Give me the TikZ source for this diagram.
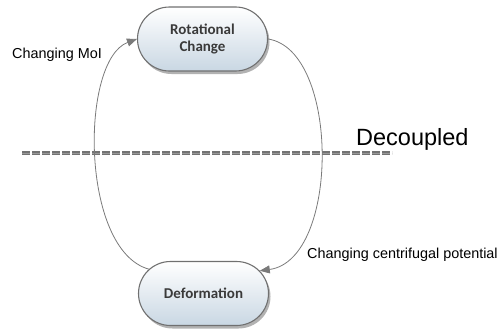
\documentclass[tikz,border=0pt]{standalone}
\usepackage{fontspec}
\setmainfont{Liberation Sans}
\newfontfamily\nodefont{Carlito}
\usetikzlibrary{shapes.misc,shadows,arrows.meta}
\definecolor{nodeborder}{HTML}{707070}
\definecolor{nodebottom}{HTML}{C9D7E3}
\definecolor{nodetext}{HTML}{3A3A3A}
\definecolor{linkgray}{HTML}{7A7A7A}
\tikzset{
  statebox/.style={rounded rectangle, draw=nodeborder, line width=1.1pt,
    top color=white, bottom color=nodebottom, minimum width=130pt, minimum height=64pt,
    inner sep=0pt, align=center, text=nodetext,
    font=\nodefont\bfseries\fontsize{15}{17}\selectfont,
    drop shadow={shadow xshift=2pt, shadow yshift=-3pt, fill=black, opacity=0.3}},
  link/.style={draw=linkgray, line width=0.8pt, -{Triangle[length=10pt,width=8pt,fill=linkgray]}},
  lbl/.style={font=\fontsize{14.4}{16}\selectfont, anchor=west, inner sep=0pt}
}
\begin{document}
\begin{tikzpicture}[x=1pt,y=-1pt]
\useasboundingbox (0,0) rectangle (500,332);
\node[statebox] (rot) at (202.5,39) {Rotational\\Change};
\node[statebox] (def) at (203.5,293.5) {Deformation};
\coordinate (dl) at (22,153);
\coordinate (dr) at (392,153);
\draw[gray!90!black, line width=3.5pt, dash pattern=on 8pt off 2pt] (dl) -- (dr);
\draw[gray!80, line width=0.6pt, dash pattern=on 8pt off 2pt] (dl) -- (dr);
\draw[link] (def.156) .. controls (80,250) and (80,60) .. (rot.west);
\draw[link] (rot.east) .. controls (340,50) and (340,260) .. (def.22);
\node[lbl] (moi) at (12,55) {Changing MoI};
\node[lbl] (cent) at (307,255) {Changing centrifugal potential};
\node[font=\fontsize{23.5}{26}\selectfont, anchor=west, inner sep=0pt] (dec) at (356,139) {Decoupled};
\end{tikzpicture}
\end{document}
